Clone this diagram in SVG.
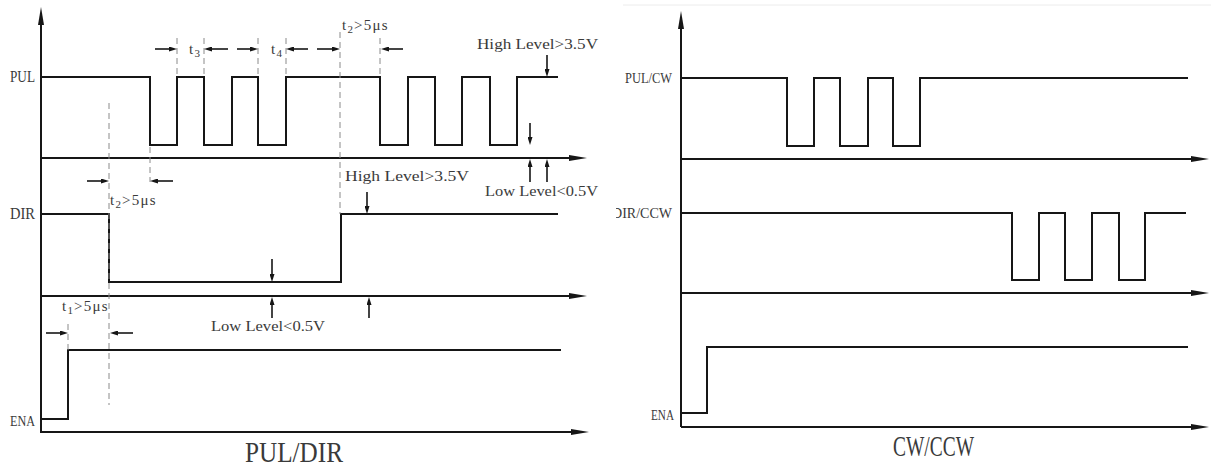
<svg xmlns="http://www.w3.org/2000/svg" width="1211" height="466" viewBox="0 0 1211 466">
<style>
.wave{fill:none;stroke:#161616;stroke-width:2;stroke-linejoin:miter}
.axis{fill:none;stroke:#161616;stroke-width:2}
.dash{fill:none;stroke:#8a8a8a;stroke-width:1;stroke-dasharray:6 4}
.arr{fill:none;stroke:#161616;stroke-width:1.6}
.lbl{font-family:"Liberation Serif","DejaVu Serif",serif;font-size:15px;fill:#3a3a3a}
.tl{font-family:"Liberation Serif","DejaVu Serif",serif;font-size:15px;fill:#3a3a3a;letter-spacing:1.2px}
.sig{font-family:"Liberation Serif","DejaVu Serif",serif;font-size:16px;fill:#3a3a3a}
.sigr{font-family:"Liberation Serif","DejaVu Serif",serif;font-size:15px;fill:#3a3a3a}
.title{font-family:"Liberation Serif","DejaVu Serif",serif;font-size:29px;fill:#3a3a3a}
</style>
<defs>
<marker id="axh" markerUnits="userSpaceOnUse" markerWidth="18" markerHeight="6" refX="8" refY="3" orient="auto">
<path d="M0,0 L18,3 L0,6 z" fill="#161616"/>
</marker>
<marker id="ah" markerUnits="userSpaceOnUse" markerWidth="8" markerHeight="5" refX="4" refY="2.5" orient="auto">
<path d="M0,0 L8,2.5 L0,5 z" fill="#161616"/>
</marker>
<clipPath id="rclip"><rect x="616" y="0" width="595" height="466"/></clipPath>
</defs>
<rect width="1211" height="466" fill="#ffffff"/>

<!-- LEFT PANEL: PUL/DIR -->
<g id="left-axes">
<line class="axis" x1="41" y1="433" x2="41" y2="17" marker-end="url(#axh)"/>
<line class="axis" x1="41" y1="158" x2="577" y2="158" marker-end="url(#axh)"/>
<line class="axis" x1="41" y1="296" x2="577" y2="296" marker-end="url(#axh)"/>
<line class="axis" x1="41" y1="432" x2="579" y2="432" marker-end="url(#axh)"/>
</g>
<g id="left-pul">
<path class="wave" d="M41,77 H150 V145 H177 V77 H204 V145 H232 V77 H258 V145 H286 V77 H380 V145 H408 V77 H435 V145 H462 V77 H490 V145 H517 V77 H558"/>
<text class="sig" x="10" y="82" textLength="25" lengthAdjust="spacingAndGlyphs">PUL</text>
</g>
<g id="left-dir">
<path class="wave" d="M41,214 H109 V282 H341 V214 H558"/>
<text class="sig" x="10" y="219" textLength="25" lengthAdjust="spacingAndGlyphs">DIR</text>
</g>
<g id="left-ena">
<path class="wave" d="M41,419 H68 V350 H561"/>
<text class="sigr" x="10" y="426" textLength="25" lengthAdjust="spacingAndGlyphs">ENA</text>
</g>
<g id="left-dashes">
<line class="dash" x1="150" y1="147" x2="150" y2="182"/>
<line class="dash" x1="177" y1="38" x2="177" y2="77"/>
<line class="dash" x1="204" y1="38" x2="204" y2="77"/>
<line class="dash" x1="258" y1="38" x2="258" y2="77"/>
<line class="dash" x1="286" y1="38" x2="286" y2="77"/>
<line class="dash" x1="340" y1="32" x2="340" y2="214"/>
<line class="dash" x1="380" y1="38" x2="380" y2="77"/>
<line class="dash" x1="109" y1="103" x2="109" y2="405"/>
<line class="dash" x1="68" y1="324" x2="68" y2="350"/>
</g>
<g id="left-timing-arrows">
<line class="arr" x1="155" y1="49" x2="173" y2="49" marker-end="url(#ah)"/>
<line class="arr" x1="228" y1="49" x2="208" y2="49" marker-end="url(#ah)"/>
<line class="arr" x1="237" y1="49" x2="254" y2="49" marker-end="url(#ah)"/>
<line class="arr" x1="308" y1="49" x2="290" y2="49" marker-end="url(#ah)"/>
<line class="arr" x1="317" y1="49" x2="336" y2="49" marker-end="url(#ah)"/>
<line class="arr" x1="403" y1="49" x2="385" y2="49" marker-end="url(#ah)"/>
<line class="arr" x1="87" y1="181" x2="105" y2="181" marker-end="url(#ah)"/>
<line class="arr" x1="173" y1="181" x2="154" y2="181" marker-end="url(#ah)"/>
<line class="arr" x1="46" y1="333" x2="64" y2="333" marker-end="url(#ah)"/>
<line class="arr" x1="133" y1="333" x2="114" y2="333" marker-end="url(#ah)"/>
</g>
<g id="left-level-arrows">
<line class="arr" x1="547" y1="55" x2="547" y2="73" marker-end="url(#ah)"/>
<line class="arr" x1="530" y1="123" x2="530" y2="141" marker-end="url(#ah)"/>
<line class="arr" x1="530" y1="182" x2="530" y2="163" marker-end="url(#ah)"/>
<line class="arr" x1="547" y1="182" x2="547" y2="163" marker-end="url(#ah)"/>
<line class="arr" x1="367" y1="192" x2="367" y2="210" marker-end="url(#ah)"/>
<line class="arr" x1="272" y1="259" x2="272" y2="278" marker-end="url(#ah)"/>
<line class="arr" x1="272" y1="318" x2="272" y2="301" marker-end="url(#ah)"/>
<line class="arr" x1="369" y1="318" x2="369" y2="301" marker-end="url(#ah)"/>
</g>
<g id="left-labels">
<text class="tl" x="189" y="54">t<tspan font-size="11" dy="3">3</tspan></text>
<text class="tl" x="271" y="54">t<tspan font-size="11" dy="3">4</tspan></text>
<text class="tl" x="342" y="30">t<tspan font-size="11" dy="3">2</tspan><tspan dy="-3">&gt;5μs</tspan></text>
<text class="tl" x="110" y="205">t<tspan font-size="11" dy="3">2</tspan><tspan dy="-3">&gt;5μs</tspan></text>
<text class="tl" x="62" y="311">t<tspan font-size="11" dy="3">1</tspan><tspan dy="-3">&gt;5μs</tspan></text>
<text class="lbl" x="477" y="49" textLength="121" lengthAdjust="spacingAndGlyphs">High Level&gt;3.5V</text>
<text class="lbl" x="485" y="196" textLength="113" lengthAdjust="spacingAndGlyphs">Low Level&lt;0.5V</text>
<text class="lbl" x="345" y="181" textLength="124" lengthAdjust="spacingAndGlyphs">High Level&gt;3.5V</text>
<text class="lbl" x="211" y="331" textLength="114" lengthAdjust="spacingAndGlyphs">Low Level&lt;0.5V</text>
<text class="title" x="245" y="462" textLength="98" lengthAdjust="spacingAndGlyphs">PUL/DIR</text>
</g>

<!-- RIGHT PANEL: CW/CCW -->
<g id="right-panel" clip-path="url(#rclip)">
<line x1="623" y1="5" x2="1211" y2="5" stroke="#ececec" stroke-width="1"/>
<g id="right-axes">
<line class="axis" x1="681" y1="427" x2="681" y2="21" marker-end="url(#axh)"/>
<line class="axis" x1="681" y1="159" x2="1199" y2="159" marker-end="url(#axh)"/>
<line class="axis" x1="681" y1="293" x2="1199" y2="293" marker-end="url(#axh)"/>
<line class="axis" x1="681" y1="427" x2="1199" y2="427" marker-end="url(#axh)"/>
</g>
<g id="right-cw">
<path class="wave" d="M681,78 H787 V146 H814 V78 H840 V146 H868 V78 H893 V146 H920 V78 H1188"/>
<text class="sigr" x="625" y="83" textLength="47" lengthAdjust="spacingAndGlyphs">PUL/CW</text>
</g>
<g id="right-ccw">
<path class="wave" d="M681,213 H1012 V280 H1039 V213 H1065 V280 H1092 V213 H1119 V280 H1145 V213 H1186"/>
<text class="sigr" x="612" y="218" textLength="60" lengthAdjust="spacingAndGlyphs">DIR/CCW</text>
</g>
<g id="right-ena">
<path class="wave" d="M681,413 H707 V347 H1188"/>
<text class="sigr" x="651" y="420" textLength="23" lengthAdjust="spacingAndGlyphs">ENA</text>
</g>
<text class="title" x="893" y="456" font-size="27" textLength="81" lengthAdjust="spacingAndGlyphs">CW/CCW</text>
</g>
</svg>
